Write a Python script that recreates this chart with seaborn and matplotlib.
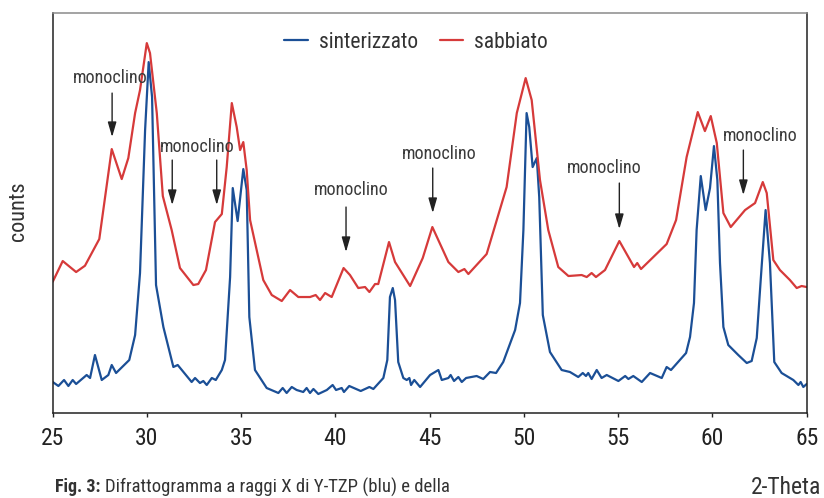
import pandas as pd
import numpy as np
import matplotlib
matplotlib.use("Agg")
import matplotlib.pyplot as plt
import seaborn as sns

# 2-theta positions and counts
theta_sinterizzato = [25.00, 25.30, 25.60, 25.83, 26.06, 26.24, 26.80, 26.98, 27.24, 27.60, 27.95, 28.13, 28.36,
                      29.06, 29.37, 29.63, 29.90, 30.09, 30.27, 30.48, 30.87, 31.40, 31.63, 32.37, 32.55, 32.81,
                      32.99, 33.17, 33.44, 33.65, 33.97, 34.14, 34.41, 34.55, 34.81, 35.11, 35.29, 35.43, 35.73,
                      36.35, 36.97, 37.20, 37.41, 37.68, 37.94, 38.29, 38.47, 38.65, 38.83, 39.09, 39.54, 39.85,
                      40.03, 40.33, 40.45, 40.73, 41.34, 41.80, 42.01, 42.54, 42.75, 42.89, 43.04, 43.16, 43.33,
                      43.60, 43.78, 43.92, 44.01, 44.18, 44.49, 45.02, 45.46, 45.64, 45.99, 46.11, 46.29, 46.52,
                      46.70, 46.93, 47.49, 47.84, 48.20, 48.52, 48.90, 49.53, 49.79, 49.97, 50.14, 50.28, 50.46,
                      50.68, 50.81, 51.00, 51.38, 52.00, 52.44, 52.88, 53.12, 53.29, 53.41, 53.59, 53.86, 54.12,
                      54.39, 55.01, 55.37, 55.54, 55.80, 56.25, 56.69, 57.31, 57.57, 57.80, 58.60, 58.81, 59.02,
                      59.16, 59.38, 59.64, 59.87, 60.08, 60.26, 60.40, 60.58, 60.84, 61.37, 61.82, 62.08, 62.35,
                      62.56, 62.82, 63.05, 63.28, 63.67, 64.29, 64.56, 64.68, 64.82, 65.00]
counts_sinterizzato = [310, 270, 330, 270, 330, 290, 380, 350, 580, 330, 380, 480, 400,
                       530, 780, 1400, 2830, 3510, 3160, 1280, 860, 460, 480, 310, 350, 300,
                       320, 280, 350, 330, 430, 530, 1360, 2250, 1920, 2440, 2230, 960, 430,
                       250, 200, 250, 200, 260, 230, 210, 250, 200, 240, 190, 230, 280,
                       230, 250, 210, 270, 220, 260, 240, 350, 530, 1160, 1250, 1130, 510,
                       350, 330, 350, 280, 330, 260, 380, 430, 330, 350, 380, 320, 360,
                       310, 350, 370, 340, 410, 400, 510, 830, 1100, 1830, 3000, 2860, 2460,
                       2550, 2160, 980, 610, 430, 410, 360, 400, 370, 400, 340, 430, 350,
                       380, 320, 370, 340, 370, 310, 400, 350, 460, 430, 600, 760, 1100,
                       1830, 2370, 2030, 2250, 2670, 2330, 1500, 860, 680, 580, 500, 520, 750,
                       1330, 2030, 1500, 510, 400, 330, 280, 310, 260, 290]

theta_sabbiato = [25.00, 25.53, 26.24, 26.71, 27.47, 28.13, 28.66, 29.01, 29.37, 29.63, 29.99, 30.16, 30.52,
                  30.84, 31.31, 31.75, 32.46, 32.72, 33.13, 33.61, 33.97, 34.23, 34.50, 34.76, 34.94, 35.11,
                  35.29, 35.47, 36.17, 36.62, 37.15, 37.59, 38.03, 38.65, 38.95, 39.18, 39.45, 39.80, 40.43,
                  40.77, 41.21, 41.57, 41.80, 42.10, 42.27, 42.84, 43.16, 43.96, 44.63, 45.14, 45.99, 46.52,
                  46.84, 47.05, 48.02, 49.08, 49.62, 50.09, 50.41, 50.85, 51.29, 51.82, 52.36, 53.06, 53.33,
                  53.59, 53.82, 54.30, 55.06, 55.84, 56.01, 56.21, 57.57, 58.07, 58.63, 59.22, 59.60, 59.91,
                  60.23, 60.58, 60.97, 61.73, 62.26, 62.67, 62.88, 63.23, 63.58, 64.11, 64.47, 64.73, 65.00]
counts_sabbiato = [1313, 1520, 1410, 1473, 1740, 2640, 2340, 2550, 3000, 3230, 3700, 3600, 3000,
                   2170, 1830, 1450, 1280, 1290, 1430, 1910, 1990, 2460, 3100, 2860, 2630, 2710,
                   2430, 1930, 1330, 1180, 1120, 1230, 1160, 1160, 1180, 1130, 1200, 1160, 1450,
                   1380, 1250, 1260, 1210, 1290, 1290, 1710, 1510, 1270, 1550, 1860, 1510, 1410,
                   1440, 1390, 1590, 2260, 3000, 3350, 3130, 2330, 1830, 1460, 1370, 1380, 1360,
                   1400, 1360, 1430, 1720, 1460, 1500, 1440, 1690, 1930, 2560, 3010, 2820, 2970,
                   2700, 2000, 1860, 2030, 2100, 2310, 2200, 1530, 1430, 1330, 1250, 1270, 1260]

# "monoclino" labels (theta, counts) and the arrows (theta, start, end)
label_theta = [28.04, 32.66, 40.82, 45.49, 54.26, 62.52]
label_counts = [3350, 2660, 2230, 2590, 2450, 2770]
arrow_theta = [28.15, 31.34, 33.70, 40.56, 45.16, 55.06, 61.64]
arrow_start = [3200, 2530, 2530, 2060, 2450, 2300, 2630]
arrow_end = [2760, 2080, 2080, 1610, 2000, 1840, 2180]

xticks = [25, 30, 35, 40, 45, 50, 55, 60, 65]

df = pd.concat([
    pd.DataFrame({"theta": theta_sinterizzato, "counts": counts_sinterizzato, "campione": "sinterizzato"}),
    pd.DataFrame({"theta": theta_sabbiato, "counts": counts_sabbiato, "campione": "sabbiato"}),
])

sns.set_style("white")
plt.rcParams["font.family"] = ["Roboto Condensed", "DejaVu Sans"]

fig = plt.figure(figsize=(8.24, 4.98), dpi=100)
ax = fig.add_axes([0.064, 0.1707, 0.915, 0.803])

sns.lineplot(data=df, x="theta", y="counts", hue="campione", estimator=None, sort=False,
             palette={"sinterizzato": "#1b4f96", "sabbiato": "#d63a3a"}, linewidth=1.6, ax=ax)

ax.set_xlim(25, 65)
ax.set_ylim(0, 4000)
ax.set_xticks(xticks)
ax.set_xticklabels([str(t) for t in xticks], fontsize=17, color="#222222")
ax.set_yticks([])
ax.tick_params(axis="x", direction="out", length=3, width=1, color="#222222", pad=7, bottom=True)
ax.set_xlabel("")
ax.set_ylabel("")

for side in ["left", "right", "bottom"]:
    ax.spines[side].set_color("#222222")
    ax.spines[side].set_linewidth(1.1)
ax.spines["top"].set_color("#8a8a8a")
ax.spines["top"].set_linewidth(1.1)

# annotations
for x, y in zip(label_theta, label_counts):
    ax.text(x, y, "monoclino", fontsize=13, color="#3a3a3a", ha="center", va="center")
for x, y0, y1 in zip(arrow_theta, arrow_start, arrow_end):
    ax.annotate("", xy=(x, y1), xytext=(x, y0),
                arrowprops=dict(arrowstyle="-|>,head_length=0.9,head_width=0.26", color="#222222",
                                lw=1.0, shrinkA=0, shrinkB=0, mutation_scale=10))

leg = ax.legend(loc="center", bbox_to_anchor=(0.482, 0.927), ncol=2, frameon=False, fontsize=15.5,
                handlelength=1.1, columnspacing=1.0, handletextpad=0.5)
for t in leg.get_texts():
    t.set_color("#333333")

fig.text(0.022, 0.576, "counts", rotation=90, fontsize=16, color="#333333", ha="center", va="center")
fig.text(0.997, 0.022, "2-Theta", fontsize=17, color="#333333", ha="right", va="center")

fig.canvas.draw()
r = fig.canvas.get_renderer()
t1 = fig.text(0.067, 0.022, "Fig. 3:", fontsize=13, fontweight="bold", color="#333333", ha="left", va="center")
bb = t1.get_window_extent(renderer=r)
fig.text((bb.x1 + 4) / fig.bbox.width, 0.022, "Difrattogramma a raggi X di Y-TZP (blu) e della",
         fontsize=13.5, color="#333333", ha="left", va="center")

fig.savefig("out.png", dpi=100)
